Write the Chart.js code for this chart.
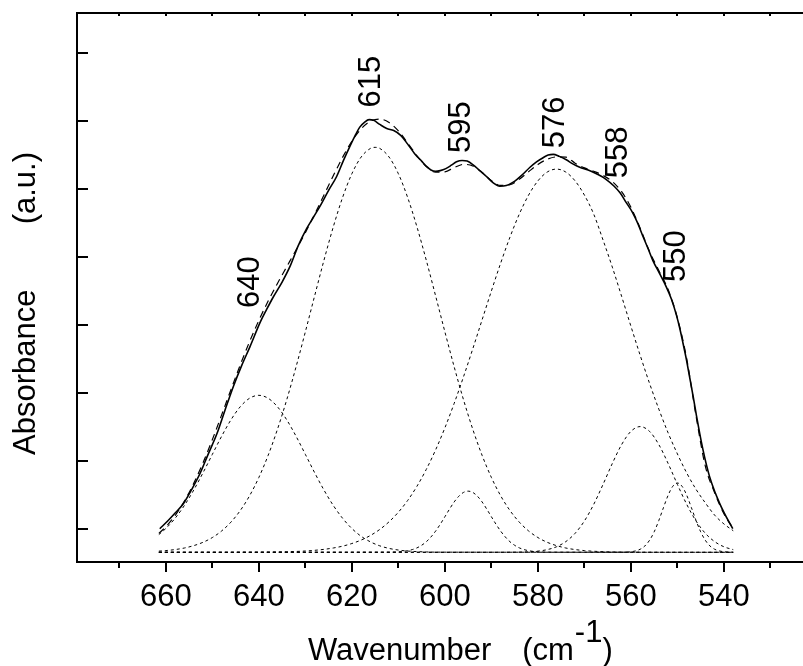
<!DOCTYPE html>
<html>
<head>
<meta charset="utf-8">
<title>Absorbance deconvolution</title>
<script src="https://cdn.jsdelivr.net/npm/chart.js@4.4.1/dist/chart.umd.min.js"></script>
<style>
  html, body { margin: 0; padding: 0; background: #ffffff; }
  canvas { display: block; }
</style>
</head>
<body>
<canvas id="absChart" width="803" height="666"></canvas>
<script>
// Measured spectrum (solid line)
const expX = [661.3, 659.5, 658, 656.2, 654.5, 652.6, 651, 649, 647.3, 645.5, 643.7, 641.9, 639.7, 638.3, 636.9, 635, 633.3, 631.5, 629.7, 628.3,
    626.9, 625, 623.3, 621.8, 620.4, 619.2, 618.3, 617.3, 616.3, 615.3, 614, 612.5, 611, 609.5, 608, 606.5, 605, 603.9, 603, 602,
    601, 599.8, 598.6, 597.5, 596.3, 595.2, 594, 592.5, 591, 589.6, 588.2, 586.8, 585.3, 583.5, 581.7, 580.3, 578.9, 577.8, 576.7, 575.4,
    573.9, 572.5, 571, 569.2, 567.3, 565.5, 563.6, 562.3, 561, 559.7, 558.5, 557.4, 556.3, 555.3, 553.8, 552.4, 551.3, 550.2, 549.5, 548.8,
    548.1, 547.4, 546.6, 545.9, 545.2, 544.5, 543.8, 543.1, 542, 540.9, 540, 539, 538.1];
const expY = [1.00, 1.12, 1.23, 1.37, 1.57, 1.82, 2.08, 2.40, 2.74, 3.09, 3.40, 3.68, 4.04, 4.23, 4.41, 4.63, 4.86, 5.17, 5.42, 5.58,
    5.74, 5.98, 6.18, 6.42, 6.63, 6.80, 6.91, 6.98, 7.02, 7.01, 6.95, 6.89, 6.86, 6.79, 6.66, 6.52, 6.41, 6.33, 6.28, 6.26,
    6.27, 6.30, 6.35, 6.40, 6.42, 6.41, 6.36, 6.27, 6.18, 6.09, 6.04, 6.05, 6.10, 6.20, 6.32, 6.40, 6.46, 6.50, 6.51, 6.48,
    6.43, 6.37, 6.32, 6.28, 6.22, 6.15, 6.04, 5.94, 5.80, 5.66, 5.49, 5.30, 5.12, 4.95, 4.75, 4.56, 4.38, 4.14, 3.95, 3.73,
    3.50, 3.24, 2.94, 2.66, 2.40, 2.16, 1.95, 1.77, 1.55, 1.37, 1.24, 1.11, 1.00];

// Fitted envelope (dashed line)
const fitX = [661.5, 660, 658, 656, 654, 652, 650, 648, 646, 644, 642, 640, 638, 636, 634, 632, 630, 628, 626, 624,
    622, 620, 618, 616, 614, 612, 610, 608, 606, 604, 602, 600, 598, 596, 594, 592, 590, 588, 586, 584,
    582, 580, 578, 576, 574, 572, 570, 568, 566, 564, 562, 560, 558, 556, 554, 552, 550, 548, 546, 544,
    542, 540, 538];
const fitY = [0.931, 1.028, 1.194, 1.406, 1.667, 1.971, 2.311, 2.675, 3.046, 3.410, 3.752, 4.066, 4.350, 4.610, 4.856, 5.102, 5.358, 5.628, 5.910, 6.194,
    6.465, 6.703, 6.885, 6.998, 7.028, 6.978, 6.854, 6.678, 6.488, 6.331, 6.247, 6.253, 6.315, 6.362, 6.339, 6.242, 6.123, 6.052, 6.062, 6.142,
    6.254, 6.360, 6.437, 6.472, 6.469, 6.38, 6.31, 6.26, 6.20, 6.11, 5.96, 5.73, 5.42, 5.08, 4.80, 4.52, 4.10, 3.50, 2.66, 1.92,
    1.53, 1.22, 1.00];

// Component bands (dotted lines)
const band640X = [661.5, 660, 658, 656, 654, 652, 650, 648, 646, 644, 642, 640, 638, 636, 634, 632, 630, 628, 626, 624,
    622, 620, 618, 616, 614, 612, 610, 608, 606, 604, 602, 538];
const band640Y = [0.914, 1.003, 1.154, 1.343, 1.569, 1.824, 2.094, 2.361, 2.602, 2.795, 2.920, 2.963, 2.920, 2.795, 2.602, 2.361, 2.094, 1.824, 1.569, 1.343,
    1.154, 1.003, 0.888, 0.806, 0.748, 0.710, 0.686, 0.671, 0.663, 0.658, 0.655, 0.653];

const band615X = [661.5, 660, 658, 656, 654, 652, 650, 648, 646, 644, 642, 640, 638, 636, 634, 632, 630, 628, 626, 624,
    622, 620, 618, 616, 615, 614, 612, 610, 608, 606, 604, 602, 600, 598, 596, 594, 592, 590, 588, 586,
    584, 582, 580, 578, 576, 574, 572, 570, 568, 566, 564, 562, 560, 558, 538];
const band615Y = [0.670, 0.678, 0.693, 0.716, 0.751, 0.800, 0.870, 0.967, 1.097, 1.267, 1.484, 1.754, 2.080, 2.463, 2.899, 3.382, 3.898, 4.428, 4.951, 5.441,
    5.874, 6.224, 6.470, 6.597, 6.613, 6.597, 6.470, 6.224, 5.874, 5.441, 4.951, 4.428, 3.898, 3.382, 2.899, 2.463, 2.080, 1.754, 1.484, 1.267,
    1.097, 0.967, 0.870, 0.800, 0.751, 0.716, 0.693, 0.678, 0.668, 0.662, 0.658, 0.656, 0.655, 0.654, 0.653];

const band595X = [661.5, 612, 610, 608, 607, 606, 605, 604, 603, 602, 601, 600, 599, 598, 597, 596, 595, 594, 593, 592,
    591, 590, 589, 588, 587, 586, 585, 584, 583, 582, 580, 578, 538];
const band595Y = [0.653, 0.655, 0.660, 0.676, 0.693, 0.718, 0.756, 0.808, 0.878, 0.964, 1.065, 1.176, 1.289, 1.394, 1.478, 1.534, 1.553, 1.534, 1.478, 1.394,
    1.289, 1.176, 1.065, 0.964, 0.878, 0.808, 0.756, 0.718, 0.693, 0.676, 0.660, 0.655, 0.653];

const band576X = [661.5, 648, 646, 644, 642, 640, 638, 636, 634, 632, 630, 628, 626, 624, 622, 620, 618, 616, 614, 612,
    610, 608, 606, 604, 602, 600, 598, 596, 594, 592, 590, 588, 586, 584, 582, 580, 578, 576, 574, 572,
    570, 568, 566, 564, 562, 560, 558, 556, 554, 552, 550, 548, 546, 544, 542, 540, 538];
const band576Y = [0.653, 0.653, 0.653, 0.654, 0.654, 0.655, 0.656, 0.658, 0.661, 0.665, 0.672, 0.682, 0.696, 0.716, 0.743, 0.782, 0.833, 0.901, 0.989, 1.102,
    1.243, 1.416, 1.625, 1.873, 2.159, 2.484, 2.845, 3.235, 3.648, 4.074, 4.499, 4.910, 5.292, 5.630, 5.910, 6.119, 6.249, 6.293, 6.249, 6.119,
    5.910, 5.630, 5.25, 4.85, 4.42, 3.98, 3.55, 3.14, 2.76, 2.41, 2.10, 1.82, 1.58, 1.38, 1.20, 1.07, 0.97];

const band558X = [661.5, 588, 586, 584, 582, 580, 578, 576, 574, 572, 570, 568, 566, 564, 562, 560, 558, 556, 554, 552,
    550, 548, 546, 544, 542, 540, 538];
const band558Y = [0.653, 0.653, 0.654, 0.656, 0.660, 0.670, 0.692, 0.734, 0.810, 0.932, 1.114, 1.358, 1.651, 1.960, 2.238, 2.433, 2.503, 2.433, 2.238, 1.960,
    1.651, 1.358, 1.114, 0.932, 0.810, 0.734, 0.692];

const band550X = [661.5, 562, 560, 559, 558, 557, 556, 555, 554, 553, 552, 551, 550, 549, 548, 547, 546, 545, 544, 543,
    542, 541, 540, 538];
const band550Y = [0.653, 0.654, 0.661, 0.673, 0.698, 0.746, 0.829, 0.954, 1.121, 1.311, 1.492, 1.624, 1.673, 1.624, 1.492, 1.311, 1.121, 0.954, 0.829, 0.746,
    0.698, 0.673, 0.661, 0.654];

// Axes
const xMajorTicks = [660, 640, 620, 600, 580, 560, 540];
const xMinorTicks = [670, 650, 630, 610, 590, 570, 550, 530];
const yTicks = [1, 2, 3, 4, 5, 6, 7, 8];

// Peak annotations
const peakNames = ['640', '615', '595', '576', '558', '550'];
const peakLabelX = [641.7, 615.8, 596.5, 576.2, 562.7, 550.3];
const peakLabelY = [4.63, 7.58, 6.91, 6.98, 6.54, 5.01];

const FONT = '"Liberation Sans", Arial, Helvetica, sans-serif';

function toPoints(xs, ys) {
    return xs.map((x, i) => ({ x: x, y: ys[i] }));
}

function band(xs, ys) {
    return {
        data: toPoints(xs, ys),
        borderColor: '#000',
        borderWidth: 1,
        borderDash: [3, 3],
        pointRadius: 0,
        fill: false,
        cubicInterpolationMode: 'monotone'
    };
}

// frame, tick marks, titles and peak labels
const framePlugin = {
    id: 'frame',
    afterDraw(chart) {
        const ctx = chart.ctx;
        const a = chart.chartArea;
        const xs = chart.scales.x;
        const ys = chart.scales.y;

        ctx.save();
        ctx.strokeStyle = '#000';
        ctx.lineWidth = 2;
        ctx.setLineDash([]);
        ctx.beginPath();
        ctx.moveTo(chart.width, a.top);
        ctx.lineTo(a.left, a.top);
        ctx.lineTo(a.left, a.bottom);
        ctx.lineTo(chart.width, a.bottom);
        ctx.stroke();

        ctx.beginPath();
        yTicks.forEach(v => {
            const py = Math.round(ys.getPixelForValue(v));
            ctx.moveTo(a.left, py);
            ctx.lineTo(a.left + 11, py);
        });
        xMajorTicks.forEach(v => {
            const px = Math.round(xs.getPixelForValue(v));
            ctx.moveTo(px, a.bottom);
            ctx.lineTo(px, a.bottom + 10);
            ctx.moveTo(px, a.top);
            ctx.lineTo(px, a.top + 3);
        });
        xMinorTicks.forEach(v => {
            const px = Math.round(xs.getPixelForValue(v));
            ctx.moveTo(px, a.bottom);
            ctx.lineTo(px, a.bottom + 6);
            ctx.moveTo(px, a.top);
            ctx.lineTo(px, a.top + 3);
        });
        ctx.stroke();

        ctx.fillStyle = '#000';
        ctx.font = '31px ' + FONT;

        // peak labels, rotated
        ctx.textAlign = 'center';
        ctx.textBaseline = 'middle';
        peakNames.forEach((t, i) => {
            ctx.save();
            ctx.translate(xs.getPixelForValue(peakLabelX[i]), ys.getPixelForValue(peakLabelY[i]));
            ctx.rotate(-Math.PI / 2);
            ctx.fillText(t, 0, 0);
            ctx.restore();
        });

        // y title
        ctx.save();
        ctx.translate(26, 0);
        ctx.rotate(-Math.PI / 2);
        ctx.textAlign = 'left';
        ctx.fillText('Absorbance', -455, 0);
        ctx.textAlign = 'right';
        ctx.fillText('(a.u.)', -152, 0);
        ctx.restore();

        // x title with superscript
        ctx.textAlign = 'left';
        ctx.textBaseline = 'alphabetic';
        let tx = 308;
        ctx.fillText('Wavenumber', tx, 660);
        tx += ctx.measureText('Wavenumber').width + 31;
        ctx.fillText('(cm', tx, 660);
        tx += ctx.measureText('(cm').width + 1;
        ctx.fillText('-1', tx, 642);
        tx += ctx.measureText('-1').width;
        ctx.fillText(')', tx, 660);

        ctx.restore();
    }
};

const ctx = document.getElementById('absChart').getContext('2d');
const absChart = new Chart(ctx, {
    type: 'line',
    data: {
        datasets: [
            {
                data: toPoints(expX, expY),
                borderColor: '#000',
                borderWidth: 1.6,
                pointRadius: 0,
                fill: false,
                cubicInterpolationMode: 'monotone'
            },
            {
                data: toPoints(fitX, fitY),
                borderColor: '#000',
                borderWidth: 1.2,
                borderDash: [7, 5],
                pointRadius: 0,
                fill: false,
                cubicInterpolationMode: 'monotone'
            },
            band(band640X, band640Y),
            band(band615X, band615Y),
            band(band595X, band595Y),
            band(band576X, band576Y),
            band(band558X, band558Y),
            band(band550X, band550Y)
        ]
    },
    options: {
        responsive: false,
        animation: false,
        layout: {
            autoPadding: false,
            padding: { left: 77, top: 13, right: 0, bottom: 0 }
        },
        plugins: {
            legend: { display: false },
            tooltip: { enabled: false }
        },
        scales: {
            x: {
                type: 'linear',
                reverse: true,
                min: 523,
                max: 679.1,
                afterBuildTicks: scale => {
                    scale.ticks = xMajorTicks.map(v => ({ value: v }));
                },
                afterFit: scale => {
                    scale.height = 104;
                },
                grid: { display: false, drawTicks: false },
                border: { display: false },
                ticks: {
                    color: '#000',
                    font: { family: FONT, size: 31 },
                    padding: 17,
                    autoSkip: false,
                    maxRotation: 0
                }
            },
            y: {
                display: false,
                min: 0.51,
                max: 8.59
            }
        }
    },
    plugins: [framePlugin]
});
</script>
</body>
</html>
